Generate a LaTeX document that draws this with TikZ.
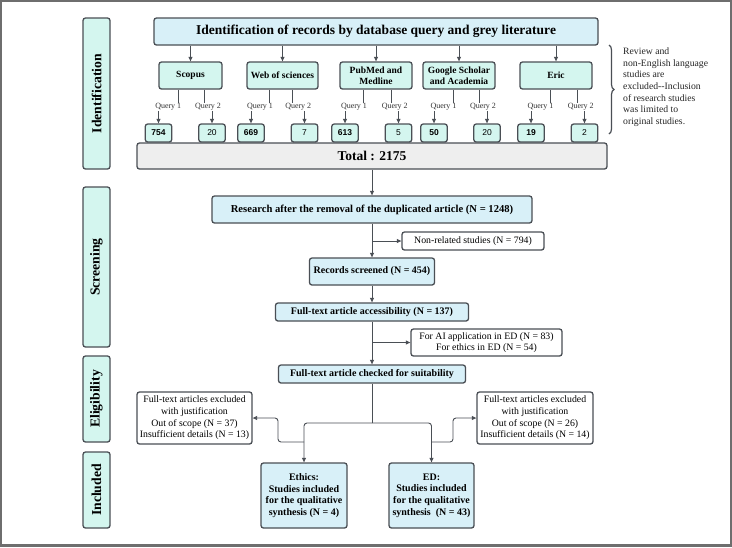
\documentclass[tikz,border=0pt]{standalone}
\usepackage{fontspec}
\setmainfont{Liberation Serif}
\setsansfont{Liberation Sans}
\usetikzlibrary{arrows.meta,decorations.pathreplacing,calc}
\definecolor{bd}{HTML}{4A4F55}
\definecolor{bluefill}{HTML}{D8F0F8}
\definecolor{mintfill}{HTML}{D4F6EF}
\definecolor{grayfill}{HTML}{EEEEEE}
\definecolor{framec}{HTML}{6E6E6E}
\begin{document}
\begin{tikzpicture}[x=1pt,y=-1pt,
  sz/.style 2 args={font=\fontsize{#1}{#2}\selectfont},
  wh/.style 2 args={minimum width=#1pt, minimum height=#2pt},
  bx/.style={draw=bd, line width=1.3pt, rounded corners=2.5pt, inner sep=1pt, align=center, text=black},
  bluebox/.style={bx, fill=bluefill, font=\bfseries\fontsize{10}{11.7}\selectfont},
  mintbox/.style={bx, fill=mintfill, font=\bfseries\fontsize{9.5}{10.5}\selectfont},
  lanebox/.style={bx, fill=mintfill, rotate=90, font=\bfseries\fontsize{13.7}{14}\selectfont},
  numbox/.style={bx, fill=mintfill, wh={26.5}{18}, font=\sffamily\fontsize{8.5}{9}\selectfont},
  whitebox/.style={bx, fill=white, font=\fontsize{9.8}{11.7}\selectfont},
  qlab/.style={fill=white, inner sep=0.6pt, font=\fontsize{8}{8}\selectfont, text=black!80},
  conn/.style={draw=bd, line width=0.9pt},
  arr/.style={conn, -{Triangle[length=4.5pt,width=4pt]}}
]
\useasboundingbox (0,0) rectangle (732,547);
\fill[white] (0,0) rectangle (732,547);
\draw[framec, line width=2.4pt] (1.2,1.2) rectangle (730.8,545.6);

% lanes
\node[lanebox, wh={151}{27}] (l1) at (96.5,93.5) {Identification};
\node[lanebox, wh={160}{27}] (l2) at (96.5,267) {Screening};
\node[lanebox, wh={86}{27}] (l3) at (96.5,399) {Eligibility};
\node[lanebox, wh={76}{27}] (l4) at (96.5,490) {Included};

% title
\node[bluebox, wh={444}{27}, font=\bfseries\fontsize{13.5}{14}\selectfont] (title) at (376,31.5) {Identification of records by database query and grey literature};

% databases
\node[mintbox, wh={63}{27}] (scopus) at (190.5,75.5) {Scopus};
\node[mintbox, wh={71}{27}] (wos) at (282.5,75.5) {Web of sciences};
\node[mintbox, wh={72}{27}] (pubmed) at (376,75.5) {PubMed and\\Medline};
\node[mintbox, wh={72}{27}] (google) at (459,75.5) {Google Scholar\\and Academia};
\node[mintbox, wh={72}{27}] (eric) at (556,75.5) {Eric};

\foreach \n in {scopus,wos,pubmed,google,eric}
  \draw[arr] (\n.north |- title.south) -- (\n.north);

% total
\node[bx, fill=grayfill, wh={470}{26}, font=\bfseries\fontsize{13.5}{14}\selectfont] (total) at (372,156) {Total : 2175};

% number boxes
\node[numbox, font=\sffamily\bfseries\fontsize{8.5}{9}\selectfont] (n1) at (158.5,133) {754};
\node[numbox] (n2) at (212,133) {20};
\node[numbox, font=\sffamily\bfseries\fontsize{8.5}{9}\selectfont] (n3) at (251,133) {669};
\node[numbox] (n4) at (304.5,133) {7};
\node[numbox, font=\sffamily\bfseries\fontsize{8.5}{9}\selectfont] (n5) at (345,133) {613};
\node[numbox] (n6) at (398.5,133) {5};
\node[numbox, font=\sffamily\bfseries\fontsize{8.5}{9}\selectfont] (n7) at (434,133) {50};
\node[numbox] (n8) at (487,133) {20};
\node[numbox, font=\sffamily\bfseries\fontsize{8.5}{9}\selectfont] (n9) at (531,133) {19};
\node[numbox] (n10) at (584.5,133) {2};

% query connectors
\draw[arr] ([xshift=-12.5pt]scopus.south) -- ++(0,17) -| node[qlab,pos=0.25]{Query 1} (n1.north);
\draw[arr] ([xshift=13.5pt]scopus.south) -- ++(0,17) -| node[qlab,pos=0.25]{Query 2} (n2.north);
\draw[arr] ([xshift=-13.5pt]wos.south) -- ++(0,17) -| node[qlab,pos=0.25]{Query 1} (n3.north);
\draw[arr] ([xshift=9.5pt]wos.south) -- ++(0,17) -| node[qlab,pos=0.25]{Query 2} (n4.north);
\draw[arr] ([xshift=-13pt]pubmed.south) -- ++(0,17) -| node[qlab,pos=0.25]{Query 1} (n5.north);
\draw[arr] ([xshift=15pt]pubmed.south) -- ++(0,17) -| node[qlab,pos=0.25]{Query 2} (n6.north);
\draw[arr] ([xshift=-6pt]google.south) -- ++(0,17) -| node[qlab,pos=0.25]{Query 1} (n7.north);
\draw[arr] ([xshift=20pt]google.south) -- ++(0,17) -| node[qlab,pos=0.25]{Query 2} (n8.north);
\draw[arr] ([xshift=-6pt]eric.south) -- ++(0,17) -| node[qlab,pos=0.25]{Query 1} (n9.north);
\draw[arr] ([xshift=21pt]eric.south) -- ++(0,17) -| node[qlab,pos=0.25]{Query 2} (n10.north);

% brace and note
\coordinate (bt) at (609,45);
\coordinate (bb) at (609,134);
\draw[conn, line width=1.2pt, decorate, decoration={brace, amplitude=5pt}] (bt) -- (bb);
\node[anchor=north west, inner sep=0pt, align=left, font=\fontsize{9.7}{11.7}\selectfont, text=black!85] (note) at (623,47.5)
  {Review and\\non-English language\\studies are\\excluded{-}{-}Inclusion\\of research studies\\was limited to\\original studies.};

% flow
\node[bluebox, wh={320}{27}, font=\bfseries\fontsize{10.6}{12}\selectfont] (research) at (372,209.5) {Research after the removal of the duplicated article (N = 1248)};
\node[whitebox, wh={142}{18}] (nonrel) at (473,241) {Non-related studies (N = 794)};
\node[bluebox, wh={125}{27}] (records) at (372,271.5) {Records screened (N = 454)};
\node[bluebox, wh={193}{18}] (access) at (372,312) {Full-text article accessibility (N = 137)};
\node[whitebox, wh={151}{27}] (ai) at (486.5,342.5) {For AI application in ED (N = 83)\\For ethics in ED (N = 54)};
\node[bluebox, wh={187}{18}] (suit) at (372,374) {Full-text article checked for suitability};
\node[whitebox, wh={115}{52}] (lexcl) at (194.5,418) {Full-text articles excluded\\with justification\\Out of scope (N = 37)\\Insufficient details (N = 13)};
\node[whitebox, wh={116}{52}] (rexcl) at (535,418) {Full-text articles excluded\\with justification\\Out of scope (N = 26)\\Insufficient details (N = 14)};
\node[bluebox, wh={86}{65}] (ethics) at (304,495.5) {Ethics:\\Studies included\\for the qualitative\\synthesis (N = 4)};
\node[bluebox, wh={85}{65}] (ed) at (431.5,495.5) {ED:\\Studies included\\for the qualitative\\synthesis\ \ (N = 43)};

\draw[arr] (total.south) -- (research.north);
\draw[arr] (research.south) -- (records.north);
\draw[arr] (research.south |- nonrel.west) -- (nonrel.west);
\draw[arr] (records.south) -- (access.north);
\draw[arr] (access.south) -- (suit.north);
\draw[arr] (access.south |- ai.west) -- (ai.west);

\coordinate (split) at (372,423);
\coordinate (lj) at (304,442);
\coordinate (rj) at (431.5,442);
\draw[conn] (suit.south) -- (split);
\draw[arr, rounded corners=3pt] (split) -| (ethics.north);
\draw[arr, rounded corners=3pt] (split) -| (ed.north);
\draw[arr, rounded corners=3pt] (lj) -- ++(-26,0) |- (lexcl.east);
\draw[arr, rounded corners=3pt] (rj) -- ++(21.5,0) |- (rexcl.west);
\end{tikzpicture}
\end{document}
